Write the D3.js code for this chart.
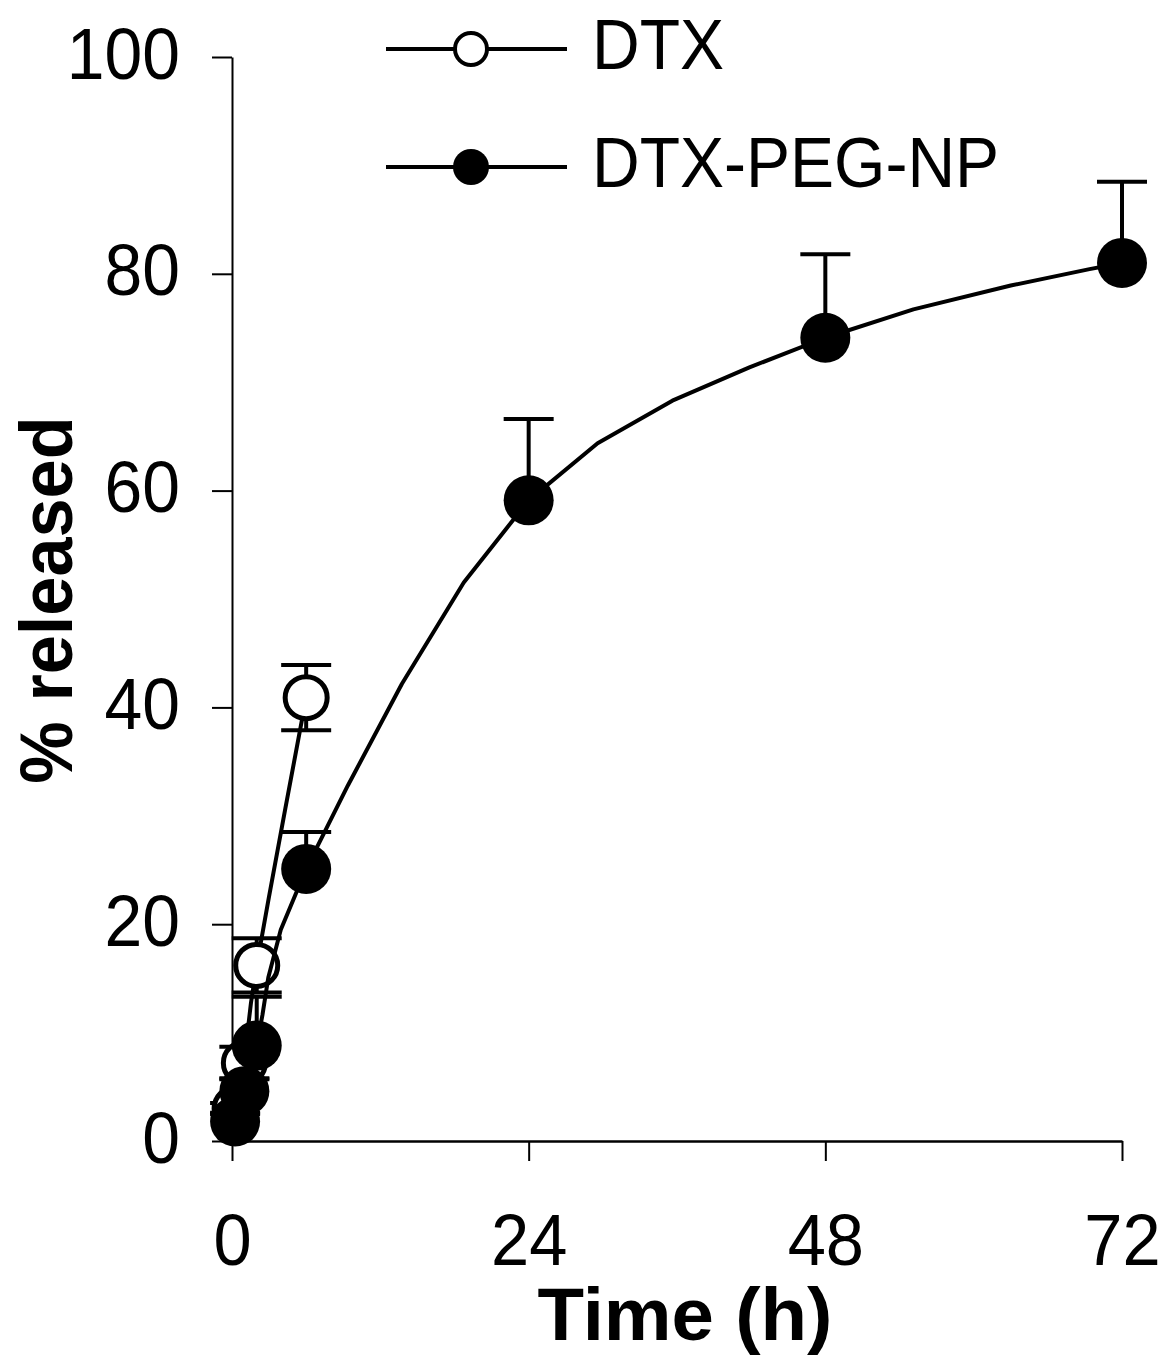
<!DOCTYPE html>
<html>
<head>
<meta charset="utf-8">
<script src="https://cdn.jsdelivr.net/npm/d3@7"></script>
<style>
  body { margin: 0; background: #fff; }
  svg { display: block; }
  text { font-family: "Liberation Sans", Arial, sans-serif; fill: #000; }
</style>
</head>
<body>
<div id="chart"></div>
<script>
// values
const dtxTime = [0.25, 1, 2, 6];
const dtxMean = [3, 7.2, 16.2, 40.9];
const dtxSd = [0.5, 1.5, 2.5, 3];

const npTime = [0.25, 1, 2, 6, 24, 48, 72];
const npMean = [1.8, 4.6, 8.8, 25.1, 59.1, 74.1, 81];
const npSd = [0.8, 1.2, 4.5, 3.4, 7.5, 7.7, 7.5];

const xTicks = [0, 24, 48, 72];
const yTicks = [0, 20, 40, 60, 80, 100];
const seriesNames = ['DTX', 'DTX-PEG-NP'];

const width = 1163;
const height = 1357;

const svg = d3.select('#chart')
  .append('svg')
  .attr('width', width)
  .attr('height', height);

const x = d3.scaleLinear().domain([0, 72]).range([232, 1122]);
const y = d3.scaleLinear().domain([0, 100]).range([1141, 57]);

// axes
const yAxis = svg.append('g')
  .attr('transform', 'translate(' + x(0) + ',0)')
  .call(d3.axisLeft(y).tickValues(yTicks).tickSize(20).tickSizeOuter(0).tickFormat(d3.format('d')));
yAxis.select('.domain').attr('stroke-width', 2);
yAxis.selectAll('.tick line').attr('stroke-width', 2);
yAxis.selectAll('.tick text')
  .style('font-size', '73px')
  .attr('x', -52 / 0.93)
  .attr('dy', '0.29em')
  .attr('transform', 'scale(0.93,1)');

const xAxis = svg.append('g')
  .attr('transform', 'translate(0,' + y(0) + ')')
  .call(d3.axisBottom(x).tickValues(xTicks).tickSize(20).tickSizeOuter(0).tickPadding(52));
xAxis.select('.domain').attr('stroke-width', 2.5);
xAxis.selectAll('.tick line').attr('stroke-width', 2);
xAxis.selectAll('.tick text')
  .style('font-size', '73px')
  .attr('transform', 'scale(0.94,1)');

svg.append('text')
  .attr('transform', 'translate(685,1340) scale(1.03,1)')
  .attr('text-anchor', 'middle')
  .style('font-size', '74px')
  .style('font-weight', 'bold')
  .text('Time (h)');

svg.append('text')
  .attr('transform', 'translate(72,600) rotate(-90) scale(0.95,1)')
  .attr('text-anchor', 'middle')
  .style('font-size', '74px')
  .style('font-weight', 'bold')
  .text('% released');

// excel style smoothed line: cardinal curve, each piece cut into 4 straight bits
function smoothPoints(data) {
  const out = [];
  let cx = 0, cy = 0;
  const ctx = {
    moveTo(px, py) { out.push([px, py]); cx = px; cy = py; },
    lineTo(px, py) { out.push([px, py]); cx = px; cy = py; },
    bezierCurveTo(x1, y1, x2, y2, px, py) {
      for (let k = 1; k <= 4; k++) {
        const t = k / 4, u = 1 - t;
        out.push([
          u * u * u * cx + 3 * u * u * t * x1 + 3 * u * t * t * x2 + t * t * t * px,
          u * u * u * cy + 3 * u * u * t * y1 + 3 * u * t * t * y2 + t * t * t * py
        ]);
      }
      cx = px; cy = py;
    },
    closePath() {}
  };
  d3.line()
    .x(d => x(d.t))
    .y(d => y(d.v))
    .curve(d3.curveCardinal.tension(0))
    .context(ctx)(data);
  return out;
}

const dtx = dtxTime.map((t, i) => ({ t: t, v: dtxMean[i], sd: dtxSd[i] }));
const np = npTime.map((t, i) => ({ t: t, v: npMean[i], sd: npSd[i] }));

function drawSeries(data, filled, both) {
  const g = svg.append('g');

  g.append('path')
    .attr('d', d3.line()(smoothPoints(data)))
    .attr('fill', 'none')
    .attr('stroke', '#000')
    .attr('stroke-width', 4)
    .attr('stroke-linejoin', 'round');

  const err = g.selectAll('.err')
    .data(data)
    .enter()
    .append('g')
    .attr('class', 'err')
    .attr('stroke', '#000')
    .attr('stroke-width', 4);

  err.append('line')
    .attr('x1', d => x(d.t))
    .attr('x2', d => x(d.t))
    .attr('y1', d => y(both ? d.v - d.sd : d.v))
    .attr('y2', d => y(d.v + d.sd));

  err.append('line')
    .attr('x1', d => x(d.t) - 25)
    .attr('x2', d => x(d.t) + 25)
    .attr('y1', d => y(d.v + d.sd))
    .attr('y2', d => y(d.v + d.sd));

  if (both) {
    err.append('line')
      .attr('x1', d => x(d.t) - 25)
      .attr('x2', d => x(d.t) + 25)
      .attr('y1', d => y(d.v - d.sd))
      .attr('y2', d => y(d.v - d.sd));
  }

  g.selectAll('circle')
    .data(data)
    .enter()
    .append('circle')
    .attr('cx', d => x(d.t))
    .attr('cy', d => y(d.v))
    .attr('r', filled ? 25 : 21)
    .attr('fill', filled ? '#000' : '#fff')
    .attr('stroke', '#000')
    .attr('stroke-width', filled ? 0 : 5);
}

drawSeries(dtx, false, true);
drawSeries(np, true, false);

// legend
const legend = svg.selectAll('.legend')
  .data(seriesNames)
  .enter()
  .append('g')
  .attr('class', 'legend')
  .attr('transform', (d, i) => 'translate(0,' + (49 + i * 118) + ')');

legend.append('line')
  .attr('x1', 386)
  .attr('x2', 567)
  .attr('stroke', '#000')
  .attr('stroke-width', 4);

legend.append('circle')
  .attr('cx', 471)
  .attr('r', (d, i) => i ? 18 : 16)
  .attr('fill', (d, i) => i ? '#000' : '#fff')
  .attr('stroke', '#000')
  .attr('stroke-width', (d, i) => i ? 0 : 4);

legend.append('text')
  .attr('transform', 'translate(592,20) scale(0.93,1)')
  .style('font-size', '71px')
  .text(d => d);
</script>
</body>
</html>
